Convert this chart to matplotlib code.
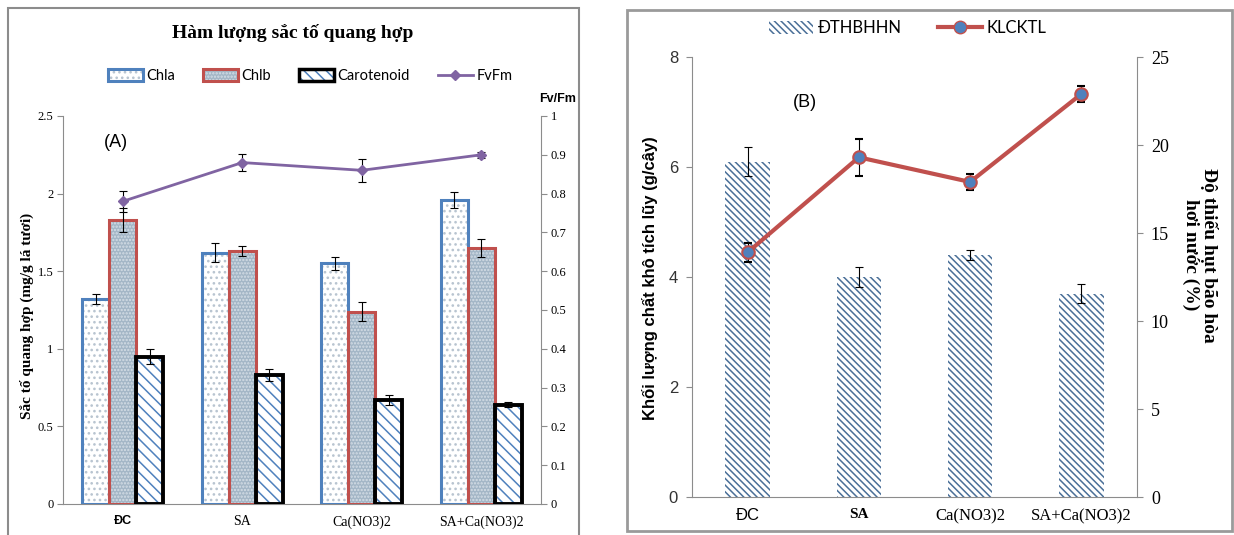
import matplotlib
matplotlib.use('Agg')
import matplotlib.pyplot as plt
from matplotlib.patches import Rectangle
from matplotlib.lines import Line2D
from matplotlib.ticker import FormatStrFormatter
import numpy as np

# ---- data ----
categories = ['ĐC', 'SA', 'Ca(NO3)2', 'SA+Ca(NO3)2']

chla = [1.32, 1.62, 1.55, 1.96]
chla_err = [0.03, 0.06, 0.04, 0.05]
chlb = [1.83, 1.63, 1.24, 1.65]
chlb_err = [0.075, 0.035, 0.06, 0.06]
carot = [0.95, 0.83, 0.67, 0.64]
carot_err = [0.05, 0.04, 0.03, 0.015]
fvfm = [0.78, 0.88, 0.86, 0.90]
fvfm_err = [0.027, 0.021, 0.03, 0.008]

dthbhhn = [6.1, 4.0, 4.4, 3.7]
dthbhhn_err = [0.27, 0.18, 0.09, 0.18]
klcktl = [13.9, 19.3, 17.9, 22.9]
klcktl_err = [0.55, 1.05, 0.45, 0.45]

SERIF = 'Liberation Serif'
SANS = 'Liberation Sans'
CAL = 'Lato'

BLUE = '#4f81bd'
RED = '#c0504d'
PURPLE = '#8064a2'
SPINE = '#8c8c8c'

plt.rcParams['hatch.linewidth'] = 1.1

W, H = 1234, 535
fig = plt.figure(figsize=(W / 100, H / 100), dpi=100)


def box(l, t, r, b):
    return [l / W, 1 - b / H, (r - l) / W, (b - t) / H]


# panel frames
fig.add_artist(Rectangle((8 / W, -0.02), 571 / W, 1.02 - 8 / H, fill=False,
                         edgecolor='#8c8c8c', lw=1.5, transform=fig.transFigure))
fig.add_artist(Rectangle((627 / W, 1 - 531 / H), 605 / W, 521 / H, fill=False,
                         edgecolor='#9a9a9a', lw=2, transform=fig.transFigure))

x = np.arange(len(categories))
ekw = dict(ecolor='black', elinewidth=0.8, capsize=3, capthick=0.8)

HATCH_A = '...'
HATCH_B = '.....'
HATCH_C = '\\\\\\'
HATCH_BAR = '\\' * 5

# ---------------- panel A ----------------
axA = fig.add_axes(box(63, 116, 541, 504))
axA2 = axA.twinx()
bw = 0.225

# Chla: white with dots, blue border
axA.bar(x - bw, chla, bw, color='white', hatch=HATCH_A, edgecolor='#b8c4d0', lw=0, zorder=2)
axA.bar(x - bw, chla, bw, fill=False, edgecolor=BLUE, lw=2.2, zorder=3)
axA.errorbar(x - bw, chla, yerr=chla_err, fmt='none', zorder=4, **ekw)
# Chlb: grey-blue dotted, red border
axA.bar(x, chlb, bw, color='#a3b6c6', hatch=HATCH_B, edgecolor='#d5dee6', lw=0, zorder=2)
axA.bar(x, chlb, bw, fill=False, edgecolor=RED, lw=2.2, zorder=3)
axA.errorbar(x, chlb, yerr=chlb_err, fmt='none', zorder=4, **ekw)
# Carotenoid: blue diagonal stripes, black border
axA.bar(x + bw, carot, bw, color='white', hatch=HATCH_C, edgecolor=BLUE, lw=0, zorder=2)
axA.bar(x + bw, carot, bw, fill=False, edgecolor='black', lw=2.8, zorder=3)
axA.errorbar(x + bw, carot, yerr=carot_err, fmt='none', zorder=4, **ekw)

axA2.errorbar(x, fvfm, yerr=fvfm_err, color=PURPLE, lw=2, marker='D', ms=5,
              mfc=PURPLE, mec=PURPLE, **ekw)

axA.set_xlim(-0.5, 3.5)
axA.set_ylim(0, 2.5)
axA.set_yticks(np.arange(0, 2.51, 0.5))
axA.yaxis.set_major_formatter(FormatStrFormatter('%g'))
axA2.set_ylim(0, 1)
axA2.set_yticks(np.arange(0, 1.01, 0.1))
axA2.yaxis.set_major_formatter(FormatStrFormatter('%g'))

for s in ['top', 'right']:
    axA.spines[s].set_visible(False)
for s in ['top', 'left', 'bottom']:
    axA2.spines[s].set_visible(False)
axA.spines['left'].set_color(SPINE)
axA.spines['bottom'].set_color(SPINE)
axA2.spines['right'].set_color(SPINE)
axA.tick_params(axis='y', length=4, color=SPINE, labelsize=9, pad=3)
axA2.tick_params(axis='y', length=4, color=SPINE, labelsize=9, pad=3)
for t in axA.get_yticklabels() + axA2.get_yticklabels():
    t.set_family(SERIF)
axA.set_xticks(x)
axA.set_xticklabels(categories)
axA.tick_params(axis='x', length=0, pad=8)
for i, t in enumerate(axA.get_xticklabels()):
    if i == 0:
        t.set_family(SANS)
        t.set_fontweight('bold')
        t.set_fontsize(9)
    else:
        t.set_family(SERIF)
        t.set_fontsize(10)

fig.text(293 / W, 1 - 33 / H, 'Hàm lượng sắc tố quang hợp', family=SERIF,
         fontweight='bold', fontsize=14, ha='center', va='center')
fig.text(27 / W, 1 - 316 / H, 'Sắc tố quang hợp (mg/g lá tươi)', family=SERIF,
         fontweight='bold', fontsize=11, rotation=90, ha='center', va='center')
fig.text(576 / W, 1 - 99 / H, 'Fv/Fm', family=SANS, fontweight='bold',
         fontsize=9, ha='right', va='center')
fig.text(116 / W, 1 - 142 / H, '(A)', family=SANS, fontsize=13, ha='center', va='center')

hA = [
    (Rectangle((0, 0), 1, 1, facecolor='white', hatch=HATCH_A, edgecolor='#b8c4d0', lw=0),
     Rectangle((0, 0), 1, 1, fill=False, edgecolor=BLUE, lw=2.2)),
    (Rectangle((0, 0), 1, 1, facecolor='#a3b6c6', hatch=HATCH_B, edgecolor='#d5dee6', lw=0),
     Rectangle((0, 0), 1, 1, fill=False, edgecolor=RED, lw=2.2)),
    (Rectangle((0, 0), 1, 1, facecolor='white', hatch=HATCH_C, edgecolor=BLUE, lw=0),
     Rectangle((0, 0), 1, 1, fill=False, edgecolor='black', lw=2.5)),
    Line2D([], [], color=PURPLE, lw=2, marker='D', ms=5),
]
fig.legend(hA, ['Chla', 'Chlb', 'Carotenoid', 'FvFm'], loc='center',
           bbox_to_anchor=(310 / W, 1 - 76 / H), ncol=4, frameon=False,
           prop=dict(family=CAL, size=10.5), handlelength=2.4, handleheight=0.8,
           handletextpad=0.25, columnspacing=1.9)

# ---------------- panel B ----------------
axB = fig.add_axes(box(692, 57, 1137, 497))
axB2 = axB.twinx()
axB.bar(x, dthbhhn, 0.4, color='white', hatch=HATCH_BAR, edgecolor='#4a6f98', lw=0, zorder=2)
axB.errorbar(x, dthbhhn, yerr=dthbhhn_err, fmt='none', zorder=4, **ekw)
axB2.errorbar(x, klcktl, yerr=klcktl_err, color=RED, lw=3, marker='o', ms=9,
              mfc=BLUE, mec=RED, mew=1.5, **ekw)

axB.set_xlim(-0.5, 3.5)
axB.set_ylim(0, 8)
axB.set_yticks(np.arange(0, 8.1, 2))
axB2.set_ylim(0, 25)
axB2.set_yticks(np.arange(0, 25.1, 5))
axB.spines['top'].set_visible(False)
axB.spines['right'].set_visible(False)
for s in ['top', 'left', 'bottom']:
    axB2.spines[s].set_visible(False)
axB.spines['left'].set_color(SPINE)
axB.spines['bottom'].set_color(SPINE)
axB2.spines['right'].set_color(SPINE)
axB.tick_params(axis='y', length=4, color=SPINE, labelsize=12, labelcolor='#333333', pad=6)
axB2.tick_params(axis='y', length=4, color=SPINE, labelsize=13, pad=6)
for t in axB.get_yticklabels():
    t.set_family(SANS)
for t in axB2.get_yticklabels():
    t.set_family(SERIF)
axB.set_xticks(x)
axB.set_xticklabels(categories)
axB.tick_params(axis='x', length=0, pad=8)
for i, t in enumerate(axB.get_xticklabels()):
    if i == 0:
        t.set_family(SANS)
        t.set_fontsize(12)
    elif i == 1:
        t.set_family(SERIF)
        t.set_fontweight('bold')
        t.set_fontsize(11)
    else:
        t.set_family(SERIF)
        t.set_fontsize(12)

fig.text(650 / W, 1 - 278 / H, 'Khối lượng chất khô tích lũy (g/cây)', family=SANS,
         fontweight='bold', fontsize=12, rotation=90, ha='center', va='center')
fig.text(1200 / W, 1 - 255 / H, 'Độ thiếu hụt bão hòa\nhơi nước (%)', family=SERIF,
         fontweight='bold', fontsize=14, rotation=270, ha='center', va='center',
         linespacing=1.1, multialignment='center')
fig.text(805 / W, 1 - 102 / H, '(B)', family=SANS, fontsize=13, ha='center', va='center')

hB = [
    Rectangle((0, 0), 1, 1, facecolor='white', hatch=HATCH_BAR, edgecolor='#4a6f98', lw=0),
    Line2D([], [], color=RED, lw=3, marker='o', ms=9, mfc=BLUE, mec=RED),
]
fig.legend(hB, ['ĐTHBHHN', 'KLCKTL'], loc='center', bbox_to_anchor=(908 / W, 1 - 28 / H),
           ncol=2, frameon=False, prop=dict(family=CAL, size=12), handlelength=2.6,
           handleheight=0.8, handletextpad=0.3, columnspacing=2.2)

fig.savefig('out.png', dpi=100)
